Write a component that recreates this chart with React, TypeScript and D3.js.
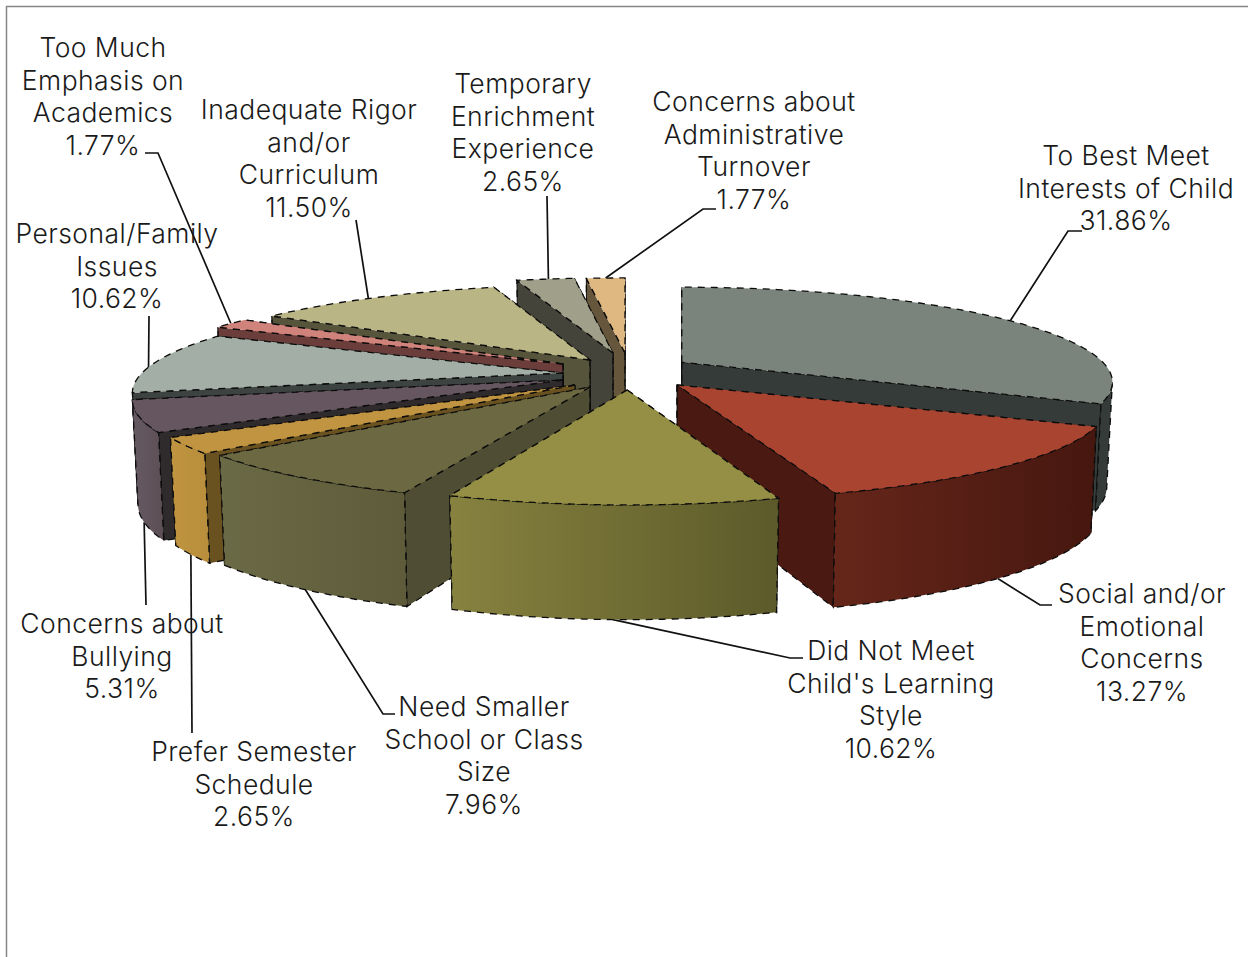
import React from "react";
import * as d3 from "d3";

// Reasons for leaving, share of responses in percent, clockwise from 12 o'clock.
const reasonLines: string[][] = [
  ["To Best Meet", "Interests of Child"],
  ["Social and/or", "Emotional", "Concerns"],
  ["Did Not Meet", "Child's Learning", "Style"],
  ["Need Smaller", "School or Class", "Size"],
  ["Prefer Semester", "Schedule"],
  ["Concerns about", "Bullying"],
  ["Personal/Family", "Issues"],
  ["Too Much", "Emphasis on", "Academics"],
  ["Inadequate Rigor", "and/or", "Curriculum"],
  ["Temporary", "Enrichment", "Experience"],
  ["Concerns about", "Administrative", "Turnover"],
];
const percents = [31.86, 13.27, 10.62, 7.96, 2.65, 5.31, 10.62, 1.77, 11.5, 2.65, 1.77];

// Fill colours per slice.
const topColors = ["#7a847c", "#a84430", "#958f45", "#6b6842", "#c09440", "#665660", "#a3aea6", "#d0837b", "#bab585", "#a0a08a", "#deb880"];
const sideColors = ["#353b39", "#4a1a12", "#5e5a2b", "#4f4d33", "#6a5120", "#2f2a2c", "#3c4340", "#6b3e3b", "#56553b", "#45443a", "#66563b"];
const rimStartColors = ["#353b39", "#66261a", "#87823f", "#6b6a46", "#c09440", "#665a62", "#3c4340", "#6b3e3b", "#56553b", "#45443a", "#66563b"];
const rimEndColors = ["#353b39", "#46170f", "#5c5a2a", "#5d5b39", "#b88e3c", "#5c4e55", "#3c4340", "#6b3e3b", "#56553b", "#45443a", "#66563b"];

// Explosion of each slice across the pie plane, as a fraction of the radius.
const pullAcross = [0.138, 0.12, 0.005, -0.0803, -0.1153, -0.1446, -0.147, -0.15, -0.0855, -0.0298, 0];
const pullDepth = [0.11, -0.139, -0.19, -0.16, -0.139, -0.0865, -0.011, 0.0898, 0.136, 0.219, 0.219];
// Sideways squeeze of a slice, from the chart's perspective.
const squeeze = [1, 1, 0.956, 1, 1, 1, 1, 1, 1, 1, 1];

// Painting order: far slices first, the front slice last.
const paintOrder = [10, 9, 8, 7, 6, 5, 4, 3, 0, 1, 2];

// Label centre, first baseline.
const labelX = [1126, 1142, 891, 484, 254, 122, 117, 103, 309, 523, 754];
const labelY = [165, 603, 660, 716, 761, 633, 243, 57, 119, 93, 111];

// Leader routes: waypoints from the label towards the slice.
const leaderRoutes: [number, number][][] = [
  [[1082, 231], [1068, 231]],
  [[1052, 605], [1040, 605]],
  [[803, 658], [790, 658]],
  [[395, 714], [383, 714]],
  [[192, 733]],
  [[146, 605]],
  [[149, 316]],
  [[145, 153], [158, 153]],
  [[356, 220]],
  [[547, 196]],
  [[716, 209], [703, 209]],
];
// Where along its arc each leader lands (0 = start of the slice, 1 = end).
const leaderAt = [0.52, 0.52, 0.5, 0.48, 0.5, 0.5, 0.41, 0.5, 0.47, 0.55, 0.5];

const WIDTH = 1248;
const HEIGHT = 957;
const centerX = 625;
const centerY = 372;
const radiusX = 421; // horizontal reach of the pie on screen
const radiusY = 90.8; // vertical reach of the pie on screen
const persp = 0.21; // perspective foreshortening front to back
const thickness = 102;
const bottomShrink = 0.987;
const silhouette = Math.acos(-persp);

const lineGen = d3.line<[number, number]>().x((d) => d[0]).y((d) => d[1]);
const closed = (pts: [number, number][]) => lineGen(pts) + "Z";

// Offset of a rim point from the slice apex.
function rim(a: number, r = 1) {
  const w = 1 + persp * r * Math.cos(a);
  return { dx: (radiusX * r * Math.sin(a)) / w, dy: (-radiusY * r * Math.cos(a)) / w, w };
}

function sampleAngles(a0: number, a1: number) {
  const n = Math.max(2, Math.ceil((a1 - a0) / 0.02));
  return d3.range(n + 1).map((i) => a0 + ((a1 - a0) * i) / n);
}

const DASH = "7 6";
const INK = "#0c0c0c";
const EDGE = 1.3;

export default function App() {
  const arcs = d3.pie<number>().sort(null).value((d) => d)(percents);

  const slices = arcs.map((arc, i) => {
    const a0 = arc.startAngle;
    const a1 = arc.endAngle;
    const wApex = 1 + persp * pullDepth[i];
    const ax = centerX + (radiusX * pullAcross[i]) / wApex;
    const ay = centerY - (radiusY * pullDepth[i]) / wApex;

    const up = (a: number): [number, number] => {
      const p = rim(a);
      return [ax + p.dx * squeeze[i], ay + p.dy];
    };
    const down = (a: number): [number, number] => {
      const p = rim(a);
      return [ax + p.dx * squeeze[i] * bottomShrink, ay + p.dy + thickness / Math.sqrt(p.w)];
    };
    const apexDown: [number, number] = [ax, ay + thickness];
    const radial = (a: number) => closed([[ax, ay], up(a), down(a), apexDown]);

    const top = closed([[ax, ay], ...sampleAngles(a0, a1).map(up)]);
    // Only the part of the rim that faces the viewer is painted.
    const v0 = Math.max(a0, silhouette);
    const v1 = Math.min(a1, 2 * Math.PI - silhouette);
    const outer =
      v1 > v0
        ? closed([...sampleAngles(v0, v1).map(up), ...sampleAngles(v0, v1).reverse().map(down)])
        : null;

    const walls = [a0, a1].sort((p, q) => up(p)[1] - up(q)[1]);
    const land = a0 + (a1 - a0) * leaderAt[i];
    // Leaders land on the lower rim where the rim faces the viewer, else on the top edge.
    const anchor = land > silhouette && land < 2 * Math.PI - silhouette ? down(land) : up(land);
    return { i, ax, ay, up, down, apexDown, radial, top, outer, walls, anchor };
  });

  return (
    <svg
      width={WIDTH}
      height={HEIGHT}
      viewBox={`0 0 ${WIDTH} ${HEIGHT}`}
      style={{ position: "fixed", left: 0, top: 0, background: "#fff" }}
    >
      <defs>
        {slices.map((s) => (
          <linearGradient key={s.i} id={`rim-${s.i}`} x1="0" x2="1" y1="0" y2="0">
            <stop offset="0" stopColor={rimStartColors[s.i]} />
            <stop offset="1" stopColor={rimEndColors[s.i]} />
          </linearGradient>
        ))}
      </defs>

      {/* chart frame */}
      <path d={`M6.5,${HEIGHT} V6.5 H${WIDTH}`} fill="none" stroke="#868686" strokeWidth={1.5} />

      {/* leader lines sit under the pie */}
      <g fill="none" stroke="#111" strokeWidth={1.7}>
        {slices.map((s) => (
          <path key={s.i} d={lineGen([...leaderRoutes[s.i], s.anchor]) ?? ""} />
        ))}
      </g>

      {paintOrder.map((idx) => {
        const s = slices[idx];
        return (
          <g key={idx}>
            {s.walls.map((a, k) => (
              <g key={k}>
                <path d={s.radial(a)} fill={sideColors[idx]} stroke={INK} strokeWidth={EDGE} strokeDasharray={DASH} />
                <line x1={s.up(a)[0]} y1={s.up(a)[1]} x2={s.down(a)[0]} y2={s.down(a)[1]} stroke={INK} strokeWidth={1} />
              </g>
            ))}
            <line x1={s.ax} y1={s.ay} x2={s.apexDown[0]} y2={s.apexDown[1]} stroke={INK} strokeWidth={1} />
            {s.outer && (
              <path d={s.outer} fill={`url(#rim-${idx})`} stroke={INK} strokeWidth={EDGE} strokeDasharray={DASH} />
            )}
            <path d={s.top} fill={topColors[idx]} stroke={INK} strokeWidth={EDGE} strokeDasharray={DASH} />
          </g>
        );
      })}

      {/* category labels with their share */}
      <g fontFamily="Inter, 'Open Sans', sans-serif" fontWeight={300} fontSize={26.5} letterSpacing={0.45} fill="#1a1a1a" textAnchor="middle">
        {reasonLines.map((lines, i) => (
          <text key={i} x={labelX[i]} y={labelY[i]}>
            {[...lines, `${percents[i].toFixed(2)}%`].map((t, k) => (
              <tspan key={k} x={labelX[i]} dy={k === 0 ? 0 : 32.5}>
                {t}
              </tspan>
            ))}
          </text>
        ))}
      </g>
    </svg>
  );
}
